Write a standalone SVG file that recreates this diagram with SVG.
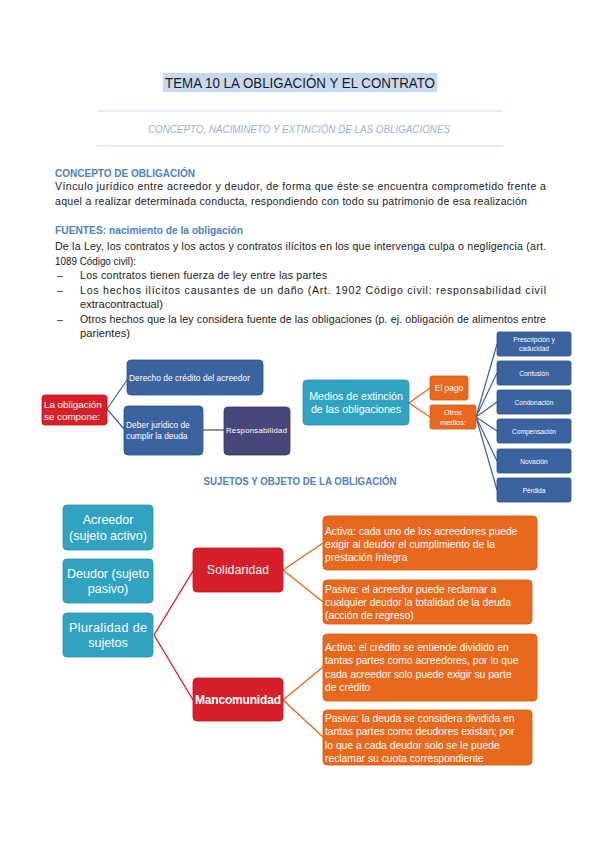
<svg xmlns="http://www.w3.org/2000/svg" width="599" height="848" viewBox="0 0 599 848">
<style>
text{font-family:"Liberation Sans",Arial,sans-serif}
.body{font-size:10.6px;fill:#1a1a1a}
.head{font-size:10.8px;font-weight:bold;fill:#4f81bd}
.w{fill:#fff}
.blue{fill:#3a63a0;stroke:#2f5288;stroke-width:0.8}
.purple{fill:#47477a;stroke:#3a3a66;stroke-width:0.8}
.red{fill:#d71f2a;stroke:#c0141f;stroke-width:0.8}
.teal{fill:#30a3c1;stroke:#2a93ae;stroke-width:0.8}
.orange{fill:#e8681e;stroke:#d45a12;stroke-width:0.8}
.cb{stroke:#3a63a0;stroke-width:1.2;fill:none}
.cp{stroke:#47477a;stroke-width:1.2;fill:none}
.co{stroke:#e8681e;stroke-width:1.4;fill:none}
.cr{stroke:#d71f2a;stroke-width:1.4;fill:none}
.ot{font-size:10.3px;fill:#fff}
</style>
<rect width="599" height="848" fill="#fff"/>

<!-- Header -->
<rect x="163" y="73" width="274" height="19" fill="#c6d9f1"/>
<text x="165" y="88" font-size="14" textLength="270" lengthAdjust="spacingAndGlyphs" fill="#1a1a1a">TEMA 10 LA OBLIGACIÓN Y EL CONTRATO</text>
<line x1="97" y1="111" x2="503" y2="111" stroke="#c6d9f1" stroke-width="1.2"/>
<text x="148" y="133" font-size="10.5" font-style="italic" fill="#95b3d7" textLength="302" lengthAdjust="spacingAndGlyphs">CONCEPTO, NACIMINETO Y EXTINCIÓN DE LAS OBLIGACIONES</text>
<line x1="97" y1="146" x2="503" y2="146" stroke="#c6d9f1" stroke-width="1.2"/>

<text class="head" x="55" y="177" textLength="140" lengthAdjust="spacingAndGlyphs">CONCEPTO DE OBLIGACIÓN</text>
<text class="body" x="55" y="190" textLength="491">Vínculo jurídico entre acreedor y deudor, de forma que éste se encuentra comprometido frente a</text>
<text class="body" x="55" y="205" textLength="472">aquel a realizar determinada conducta, respondiendo con todo su patrimonio de esa realización</text>

<text class="head" x="55" y="234" textLength="188" lengthAdjust="spacingAndGlyphs">FUENTES: nacimiento de la obligación</text>
<text class="body" x="55" y="250" textLength="491">De la Ley, los contratos y los actos y contratos ilícitos en los que intervenga culpa o negligencia (art.</text>
<text class="body" x="55" y="264.5" textLength="81" lengthAdjust="spacingAndGlyphs">1089 Código civil):</text>
<text class="body" x="57" y="279">–</text>
<text class="body" x="80" y="279" textLength="247">Los contratos tienen fuerza de ley entre las partes</text>
<text class="body" x="57" y="293.5">–</text>
<text class="body" x="80" y="293.5" textLength="466">Los hechos ilícitos causantes de un daño (Art. 1902 Código civil: responsabilidad civil</text>
<text class="body" x="80" y="308" textLength="83" lengthAdjust="spacingAndGlyphs">extracontractual)</text>
<text class="body" x="57" y="322.5">–</text>
<text class="body" x="80" y="322.5" textLength="466">Otros hechos que la ley considera fuente de las obligaciones (p. ej. obligación de alimentos entre</text>
<text class="body" x="80" y="337" textLength="50" lengthAdjust="spacingAndGlyphs">parientes)</text>

<!-- Connectors -->
<g id="connectors">
  <path class="cb" d="M107,409 L127,380 M107,409 L124,429"/>
  <path class="cp" d="M203,430 L224,430"/>
  <path class="co" d="M409,403 L430,388 M409,403 L430,417"/>
  <path class="cb" d="M476,417 L497,344 M476,417 L497,373 M476,417 L497,402 M476,417 L497,431 M476,417 L497,461 M476,417 L497,490"/>
  <path class="cr" d="M154,635 L193,571 M154,635 L193,700"/>
  <path class="co" d="M283,570 L323,543 M283,570 L323,602"/>
  <path class="co" d="M283,700 L323,667 M283,700 L323,737"/>
</g>

<!-- Left composition diagram -->
<g id="n-obligacion">
  <rect class="red" x="42" y="395" width="65" height="30" rx="3"/>
  <text class="w" x="44" y="408" font-size="9.8">La obligación</text>
  <text class="w" x="44" y="420" font-size="9.8">se compone:</text>
</g>
<g id="n-derecho">
  <rect class="blue" x="127" y="360" width="136" height="35" rx="4"/>
  <text class="w" x="129" y="381" font-size="8.4" textLength="121">Derecho de crédito del acreedor</text>
</g>
<g id="n-deber">
  <rect class="blue" x="124" y="406" width="79" height="49" rx="4"/>
  <text class="w" x="126" y="428" font-size="8.4">Deber jurídico de</text>
  <text class="w" x="126" y="439" font-size="8.4">cumplir la deuda</text>
</g>
<g id="n-responsabilidad">
  <rect class="purple" x="224" y="407" width="66" height="48" rx="4"/>
  <text class="w" x="226" y="433" font-size="7.8" textLength="61">Responsabilidad</text>
</g>

<!-- Right extinction diagram -->
<g id="n-medios">
  <rect class="teal" x="303" y="380" width="106" height="45" rx="4"/>
  <text class="w" x="356" y="400" font-size="10.6" text-anchor="middle">Medios de extinción</text>
  <text class="w" x="356" y="413" font-size="10.6" text-anchor="middle">de las obligaciones</text>
</g>
<g id="n-pago">
  <rect class="orange" x="430" y="376" width="38" height="24" rx="2"/>
  <text class="w" x="449" y="391" font-size="8.4" text-anchor="middle">El pago</text>
</g>
<g id="n-otros">
  <rect class="orange" x="430" y="405" width="46" height="24" rx="2"/>
  <text class="w" x="453" y="415" font-size="7.4" text-anchor="middle">Otros</text>
  <text class="w" x="453" y="425" font-size="7.4" text-anchor="middle">medios:</text>
</g>
<g id="n-prescripcion">
  <rect class="blue" x="497" y="332" width="74" height="24" rx="2"/>
  <text class="w" x="534" y="342" font-size="6.6" text-anchor="middle">Prescripción y</text>
  <text class="w" x="534" y="351" font-size="6.6" text-anchor="middle">caducidad</text>
</g>
<g id="n-confusion">
  <rect class="blue" x="497" y="361" width="74" height="24" rx="2"/>
  <text class="w" x="534" y="376" font-size="6.6" text-anchor="middle">Confusión</text>
</g>
<g id="n-condonacion">
  <rect class="blue" x="497" y="390" width="74" height="24" rx="2"/>
  <text class="w" x="534" y="405" font-size="6.6" text-anchor="middle">Condonación</text>
</g>
<g id="n-compensacion">
  <rect class="blue" x="497" y="419" width="74" height="24" rx="2"/>
  <text class="w" x="534" y="434" font-size="6.6" text-anchor="middle">Compensación</text>
</g>
<g id="n-novacion">
  <rect class="blue" x="497" y="449" width="74" height="24" rx="2"/>
  <text class="w" x="534" y="464" font-size="6.6" text-anchor="middle">Novación</text>
</g>
<g id="n-perdida">
  <rect class="blue" x="497" y="478" width="74" height="24" rx="2"/>
  <text class="w" x="534" y="493" font-size="6.6" text-anchor="middle">Pérdida</text>
</g>

<text class="head" x="300" y="485" font-size="10" text-anchor="middle" textLength="193" lengthAdjust="spacingAndGlyphs">SUJETOS Y OBJETO DE LA OBLIGACIÓN</text>

<!-- Bottom subjects diagram -->
<g id="n-acreedor">
  <rect class="teal" x="63" y="505" width="90" height="45" rx="4"/>
  <text class="w" x="108" y="524" font-size="12.5" text-anchor="middle">Acreedor</text>
  <text class="w" x="108" y="540" font-size="12.5" text-anchor="middle" textLength="78">(sujeto activo)</text>
</g>
<g id="n-deudor">
  <rect class="teal" x="63" y="559" width="90" height="44" rx="4"/>
  <text class="w" x="108" y="578" font-size="12.5" text-anchor="middle" textLength="82">Deudor (sujeto</text>
  <text class="w" x="108" y="593" font-size="12.5" text-anchor="middle">pasivo)</text>
</g>
<g id="n-pluralidad">
  <rect class="teal" x="63" y="613" width="90" height="44" rx="4"/>
  <text class="w" x="108" y="632" font-size="12.5" text-anchor="middle" textLength="78">Pluralidad de</text>
  <text class="w" x="108" y="647" font-size="12.5" text-anchor="middle">sujetos</text>
</g>
<g id="n-solidaridad">
  <rect class="red" x="193" y="548" width="90" height="44" rx="4"/>
  <text class="w" x="238" y="574" font-size="12" text-anchor="middle" textLength="62">Solidaridad</text>
</g>
<g id="n-mancomunidad">
  <rect class="red" x="193" y="678" width="90" height="43" rx="4"/>
  <text class="w" x="238" y="704" font-size="12" font-weight="bold" text-anchor="middle" textLength="86">Mancomunidad</text>
</g>
<g id="n-sol-activa">
  <rect class="orange" x="323" y="516" width="214" height="54" rx="4"/>
  <text class="ot" x="325" y="535">Activa: cada uno de los acreedores puede</text>
  <text class="ot" x="325" y="548">exigir al deudor el cumplimiento de la</text>
  <text class="ot" x="325" y="561">prestación íntegra</text>
</g>
<g id="n-sol-pasiva">
  <rect class="orange" x="323" y="580" width="209" height="44" rx="4"/>
  <text class="ot" x="325" y="593">Pasiva: el acreedor puede reclamar a</text>
  <text class="ot" x="325" y="606">cualquier deudor la totalidad de la deuda</text>
  <text class="ot" x="325" y="619">(acción de regreso)</text>
</g>
<g id="n-man-activa">
  <rect class="orange" x="323" y="634" width="214" height="67" rx="4"/>
  <text class="ot" x="325" y="651">Activa: el crédito se entiende dividido en</text>
  <text class="ot" x="325" y="664">tantas partes como acreedores, por lo que</text>
  <text class="ot" x="325" y="678">cada acreedor solo puede exigir su parte</text>
  <text class="ot" x="325" y="691">de crédito</text>
</g>
<g id="n-man-pasiva">
  <rect class="orange" x="323" y="710" width="209" height="55" rx="4"/>
  <text class="ot" x="325" y="722">Pasiva: la deuda se considera dividida en</text>
  <text class="ot" x="325" y="735">tantas partes como deudores existan; por</text>
  <text class="ot" x="325" y="749">lo que a cada deudor solo se le puede</text>
  <text class="ot" x="325" y="762">reclamar su cuota correspondiente</text>
</g>
</svg>
